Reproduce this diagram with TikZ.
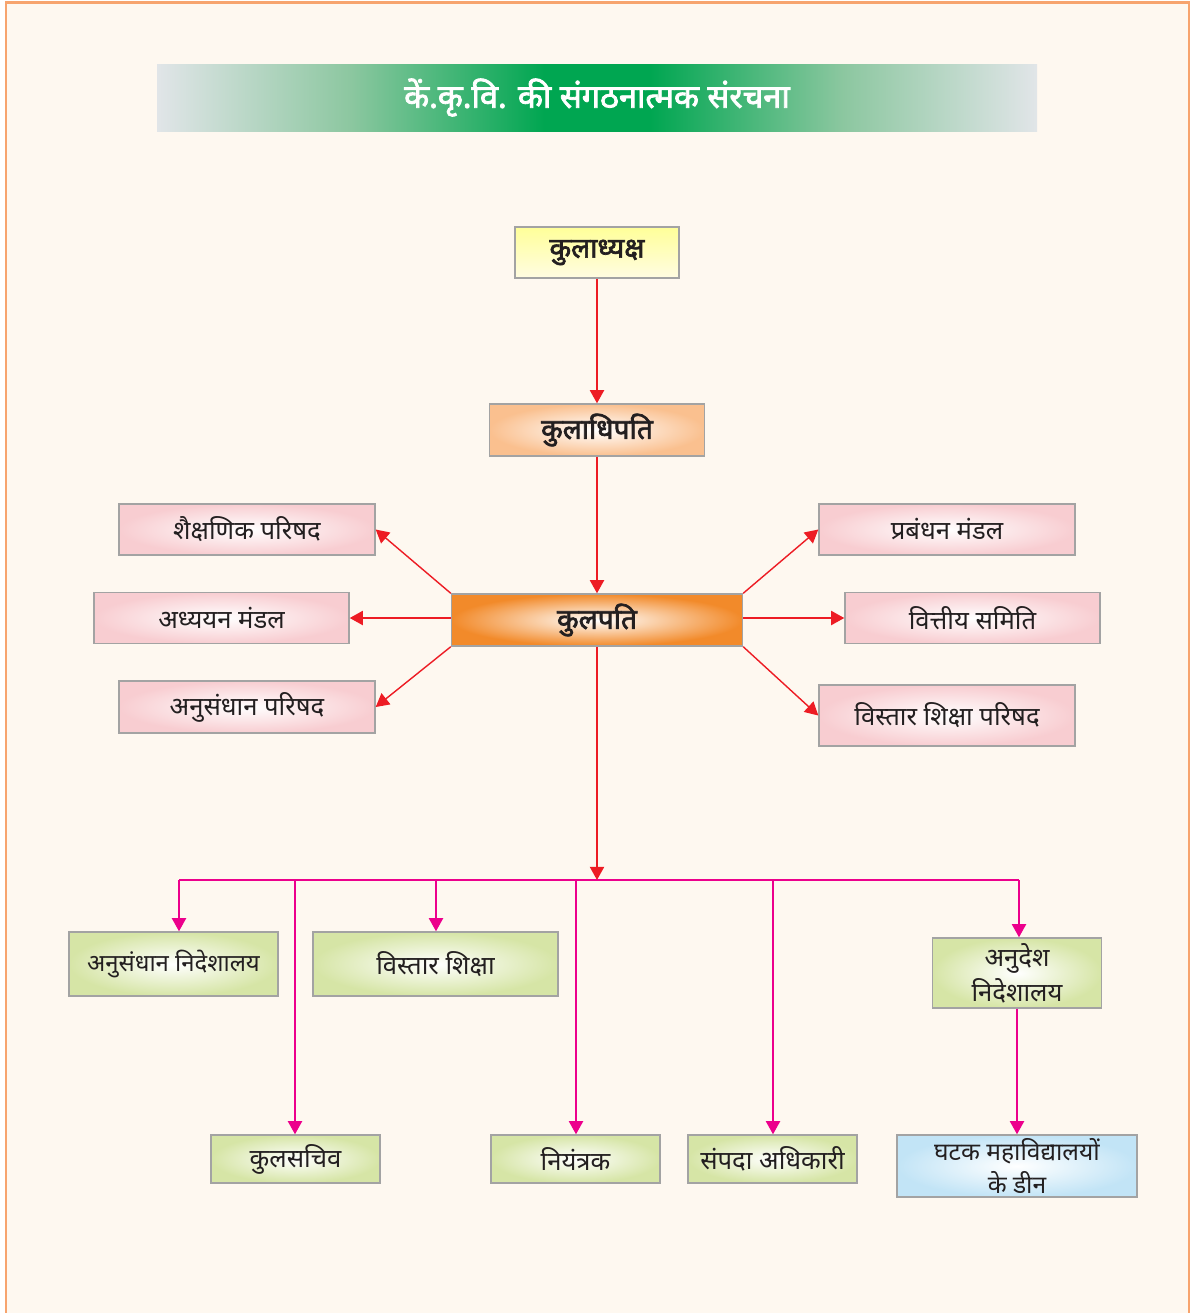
\documentclass[tikz,border=0pt]{standalone}
\usepackage{fontspec}
\newfontfamily\dev[Script=Devanagari]{Noto Sans}
\newfontfamily\devb[Script=Devanagari,FakeBold=2.5]{Noto Sans}
\usetikzlibrary{arrows.meta,calc}
\definecolor{bgc}{HTML}{FEF8F0}
\definecolor{framec}{HTML}{F7A46E}
\definecolor{boxline}{HTML}{A3A3A3}
\definecolor{pinkc}{HTML}{F8CDD1}
\definecolor{greenc}{HTML}{D6E5A6}
\definecolor{bluec}{HTML}{C2E4F6}
\definecolor{peachc}{HTML}{FAC08F}
\definecolor{orangec}{HTML}{F28A2A}
\definecolor{yelc}{HTML}{FFFF99}
\definecolor{yelc2}{HTML}{FFFCE2}
\definecolor{redc}{HTML}{ED1C24}
\definecolor{magc}{HTML}{EC008C}
\definecolor{txtc}{HTML}{231F20}
\definecolor{tgray}{HTML}{E1E5E8}
\definecolor{tmid}{HTML}{8CC7A0}
\definecolor{tgreen}{HTML}{00A651}
\pgfdeclarehorizontalshading{titleshade}{100bp}{color(0bp)=(tgray); color(25bp)=(tgray); color(36bp)=(tmid); color(47bp)=(tgreen); color(53bp)=(tgreen); color(64bp)=(tmid); color(75bp)=(tgray); color(100bp)=(tgray)}
\tikzset{
  wh/.style 2 args={minimum width=#1*0.02cm, minimum height=#2*0.02cm},
  box/.style={draw=boxline, line width=0.8pt, inner sep=0pt, align=center, text=txtc,
    font=\dev\fontsize{14.6}{20}\selectfont},
  pinkbox/.style={box, shading=radial, inner color=white, outer color=pinkc},
  greenbox/.style={box, shading=radial, inner color=white, outer color=greenc},
  bluebox/.style={box, shading=radial, inner color=white, outer color=bluec},
  boldtxt/.style={font=\devb\fontsize{16}{20}\selectfont},
  tip/.style={-{Triangle[length=7.5pt,width=8pt]}},
  redarrow/.style={draw=redc, line width=1.2pt, tip},
  reddiag/.style={draw=redc, line width=0.8pt, tip},
  magline/.style={draw=magc, line width=1.2pt},
  magarrow/.style={magline, tip},
}
\begin{document}
\begin{tikzpicture}[x=0.02cm,y=-0.02cm]
\useasboundingbox (0,0) rectangle (1192,1313);
\fill[white] (0,0) rectangle (1192,1313);
\fill[bgc] (6,2.5) rectangle (1189,1313);
\draw[framec, line width=1.3pt] (6,1313) -- (6,2.5) -- (1189,2.5) -- (1189,1313);

% title
\node[shading=titleshade, inner sep=0pt, wh={880}{67}, text=white,
  font=\devb\fontsize{18.5}{22}\selectfont] (title) at (597,97.5)
  {\raisebox{-2pt}{कें.कृ.वि. की संगठनात्मक संरचना}};

% top chain
\node[box, boldtxt, shading=axis, top color=yelc, bottom color=yelc2, wh={164}{51}] (k1) at (597,252.5) {कुलाध्यक्ष};
\node[box, boldtxt, shading=radial, inner color=white, outer color=peachc, wh={215}{52}] (k2) at (597,430) {कुलाधिपति};
\node[box, boldtxt, shading=radial, inner color=white, outer color=orangec, wh={291}{52}] (k3) at (597,620) {कुलपति};

% side boxes
\node[pinkbox, wh={256}{51}] (L1) at (247,529.5) {शैक्षणिक परिषद};
\node[pinkbox, wh={255}{51}] (L2) at (221.5,618) {अध्ययन मंडल};
\node[pinkbox, wh={256}{52}] (L3) at (247,707) {अनुसंधान परिषद};
\node[pinkbox, wh={256}{51}] (R1) at (947,529.5) {प्रबंधन मंडल};
\node[pinkbox, wh={255}{51}] (R2) at (972.5,618) {वित्तीय समिति};
\node[pinkbox, wh={256}{61}] (R3) at (947,715.5) {विस्तार शिक्षा परिषद};

% lower boxes
\node[greenbox, wh={209}{64}, font=\dev\fontsize{13.6}{20}\selectfont] (B1) at (173.5,964) {अनुसंधान निदेशालय};
\node[greenbox, wh={245}{64}] (B2) at (435.5,964) {विस्तार शिक्षा};
\node[greenbox, wh={169}{70}] (B3) at (1017,973) {अनुदेश\\निदेशालय};
\node[greenbox, wh={169}{48}] (C1) at (295.5,1159) {कुलसचिव};
\node[greenbox, wh={169}{48}] (C2) at (575.5,1159) {नियंत्रक};
\node[greenbox, wh={169}{48}] (C3) at (772.5,1159) {संपदा अधिकारी};
\node[bluebox, wh={240}{62}, font=\dev\fontsize{14}{19}\selectfont] (C4) at (1017,1166) {घटक महाविद्यालयों\\के डीन};

% red connectors
\draw[redarrow] (k1.south) -- (k2.north);
\draw[redarrow] (k2.south) -- (k3.north);
\draw[reddiag] (k3.north west) -- (L1.east);
\draw[redarrow] (k3.west |- L2.east) -- (L2.east);
\draw[reddiag] (k3.south west) -- (L3.east);
\draw[reddiag] (k3.north east) -- (R1.west);
\draw[redarrow] (k3.east |- R2.west) -- (R2.west);
\draw[reddiag] (k3.south east) -- (R3.west);

% bus
\coordinate (b1) at (179,880);
\coordinate (b2) at (295,880);
\coordinate (b3) at (436,880);
\coordinate (b4) at (576,880);
\coordinate (b5) at (773,880);
\coordinate (b6) at (1019,880);
\coordinate (bc) at (597,880);
\draw[magline] (b1) -- (b6);
\draw[magarrow] (b1) -- (b1 |- B1.north);
\draw[magarrow] (b2) -- (b2 |- C1.north);
\draw[magarrow] (b3) -- (b3 |- B2.north);
\draw[magarrow] (b4) -- (b4 |- C2.north);
\draw[magarrow] (b5) -- (b5 |- C3.north);
\draw[magarrow] (b6) -- (b6 |- B3.north);
\draw[magarrow] (B3.south) -- (B3.south |- C4.north);
\draw[redarrow] (k3.south) -- (bc);
\end{tikzpicture}
\end{document}
